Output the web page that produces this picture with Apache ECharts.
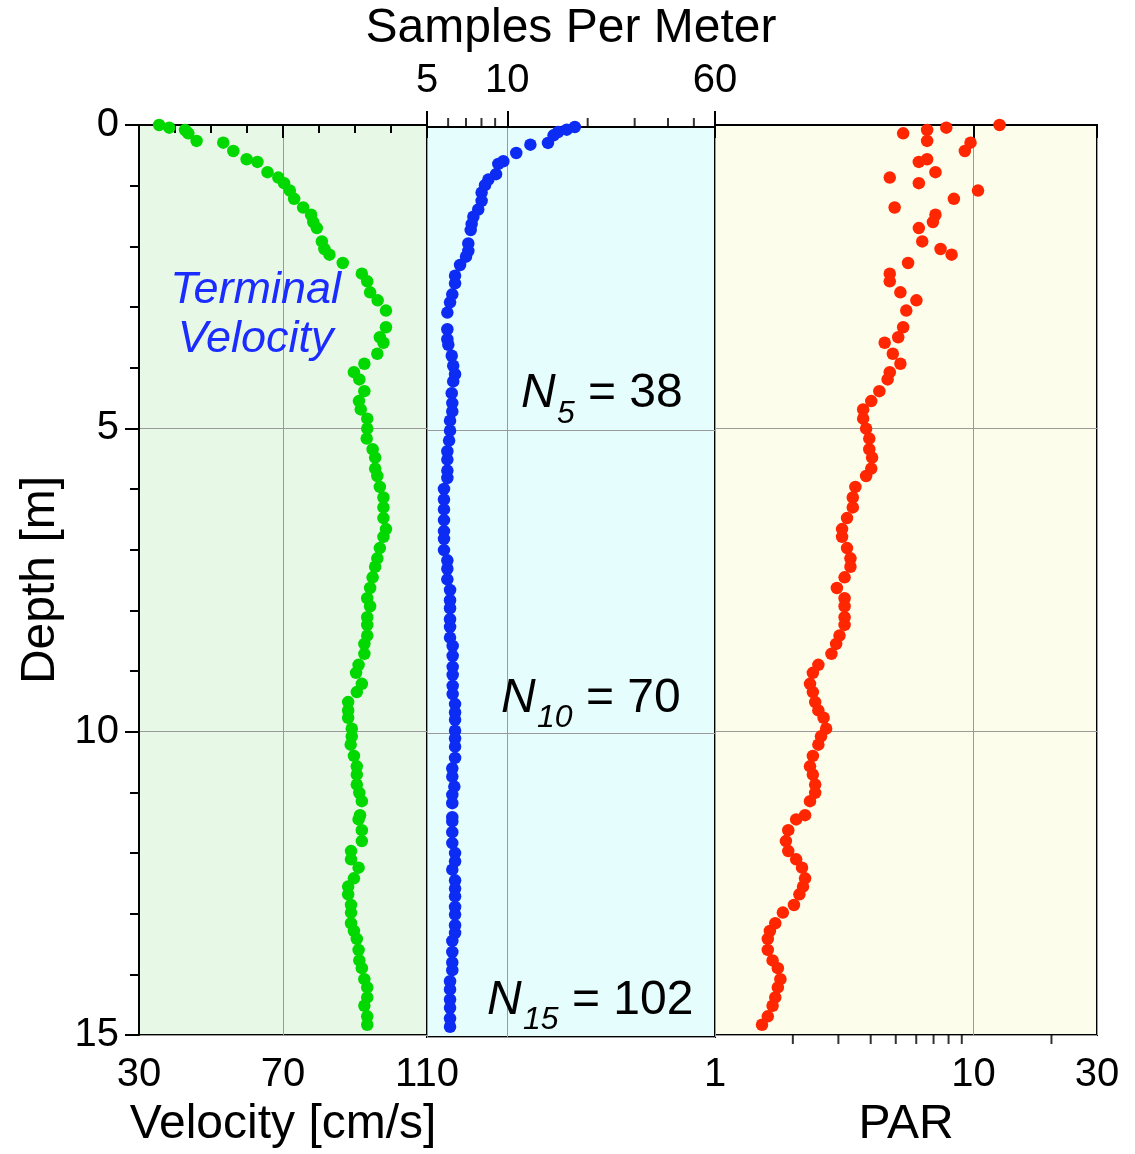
<!DOCTYPE html>
<html>
<head>
<meta charset="utf-8">
<script src="https://cdn.jsdelivr.net/npm/echarts@6/dist/echarts.min.js"></script>
<style>
html,body{margin:0;padding:0;background:#fff;}
#chart{width:1135px;height:1154px;}
</style>
</head>
<body>
<div id="chart"></div>
<script>
// ---- data ----
const depth = [0.00,0.044,0.082,0.137,0.263,0.291,0.428,0.564,0.609,0.778,
  0.867,0.959,1.081,1.217,1.360,1.480,1.600,1.699,1.919,2.044,
  2.138,2.275,2.451,2.577,2.758,2.890,3.059,3.334,3.498,3.590,
  3.771,3.936,4.074,4.194,4.387,4.551,4.688,4.84,5.005,5.169,
  5.345,5.482,5.663,5.785,5.965,6.140,6.304,6.480,6.661,6.788,
  6.974,7.143,7.281,7.456,7.632,7.801,7.933,8.113,8.240,8.416,
  8.553,8.717,8.898,9.030,9.211,9.347,9.512,9.650,9.770,9.951,
  10.077,10.214,10.400,10.571,10.707,10.872,11.008,11.146,11.377,11.447,
  11.623,11.804,11.969,12.105,12.242,12.418,12.554,12.681,12.857,12.982,
  13.158,13.285,13.416,13.597,13.771,13.898,14.079,14.215,14.380,14.518,
  14.692,14.831];
const velocity = [35.6,38.4,42.8,43.7,46.0,53.4,56.2,59.9,62.9,65.7,
  68.7,70.3,71.9,73.1,75.6,77.8,78.4,79.4,80.8,81.5,
  82.9,86.6,91.9,93.4,94.2,96.3,98.6,98.6,96.9,97.9,
  96.2,92.6,89.7,91.2,92.6,91.1,91.6,93.4,93.4,93.25,
  94.9,95.6,95.6,96.2,96.9,97.9,97.9,97.9,98.6,97.9,
  96.9,96.2,95.6,94.9,94.2,93.4,94.2,93.4,93.4,93.4,
  92.6,92.6,91.0,90.3,91.9,90.5,88.1,88.1,88.1,89.1,
  89.1,88.8,89.7,90.5,90.5,90.5,91.2,91.9,91.4,91.0,
  91.9,91.9,88.9,88.9,91.0,89.7,88.1,88.1,88.9,88.9,
  88.9,89.7,90.5,91.0,91.2,91.9,92.6,93.4,93.4,92.6,
  93.4,93.4];
const samplesPerMeter = [17.9,16.7,15.5,14.9,14.2,12.2,10.8,9.66,9.25,9.07,
  8.49,8.25,8.01,8.01,7.78,7.46,7.35,7.29,7.14,7.14,
  7.0,6.65,6.37,6.37,6.22,6.10,5.96,5.96,5.96,6.01,
  6.19,6.27,6.37,6.27,6.19,6.22,6.22,6.10,6.10,6.05,
  5.96,5.96,5.96,5.96,5.79,5.79,5.79,5.79,5.79,5.79,
  5.79,5.96,5.96,5.96,6.10,6.10,6.10,6.10,6.10,6.10,
  6.24,6.24,6.24,6.24,6.24,6.24,6.37,6.37,6.37,6.37,
  6.37,6.37,6.37,6.22,6.22,6.33,6.22,6.22,6.22,6.22,
  6.22,6.22,6.37,6.37,6.22,6.37,6.37,6.37,6.37,6.37,
  6.37,6.37,6.22,6.22,6.22,6.22,6.10,6.10,6.10,6.10,
  6.10,6.10];
const par = [12.6,7.84,6.61,5.34,6.61,9.73,9.25,6.61,6.14,7.12,
  4.74,6.14,10.4,8.39,4.95,7.12,6.96,6.14,6.33,7.45,
  8.22,5.58,4.74,4.74,5.21,6.01,5.49,5.34,5.11,4.53,
  4.87,5.21,4.74,4.65,4.32,4.02,3.74,3.74,3.84,3.95,
  3.95,4.05,4.02,3.84,3.49,3.41,3.41,3.24,3.10,3.10,
  3.24,3.34,3.34,3.17,2.96,3.17,3.17,3.17,3.17,3.03,
  2.94,2.82,2.51,2.39,2.33,2.39,2.44,2.51,2.63,2.69,
  2.57,2.51,2.39,2.33,2.39,2.44,2.44,2.33,2.23,2.06,
  1.92,1.88,1.92,2.06,2.17,2.23,2.19,2.12,2.02,1.83,
  1.71,1.63,1.60,1.60,1.67,1.75,1.79,1.75,1.71,1.67,
  1.60,1.52];
const sppMinorTicks = [6,7,8,9,20,30,40,50];
const parMinorTicks = [2,3,4,5,6,7,8,9,20];
const annotations = [
  {sub:'5', value:'= 38', depth:4.38},
  {sub:'10', value:'= 70', depth:9.40},
  {sub:'15', value:'= 102', depth:14.38}
];

// ---- chart ----
const FONT = '"Liberation Sans", Arial, Helvetica, sans-serif';
const chart = echarts.init(document.getElementById('chart'), null, {renderer:'canvas'});
const GRID_TOP = 125, GRID_H = 912;
const gridLine = {show:true, lineStyle:{color:'#9a9a9a', width:1}};
const label40 = {fontSize:40, color:'#000', fontFamily:FONT};
const name48 = {fontSize:48, color:'#000', fontFamily:FONT};

function pairs(xs){ return xs.map((v,i)=>[v, depth[i]]); }

const option = {
  backgroundColor:'#fff',
  animation:false,
  grid:[
    {left:139, top:GRID_TOP, width:288, height:GRID_H, show:true, backgroundColor:'#e8f8e6', borderColor:'#000', borderWidth:2},
    {left:427, top:GRID_TOP, width:288, height:GRID_H, show:true, backgroundColor:'#e6fdfd', borderColor:'#000', borderWidth:2},
    {left:715, top:GRID_TOP, width:382, height:GRID_H, show:true, backgroundColor:'#fdfdeb', borderColor:'#000', borderWidth:2}
  ],
  xAxis:[
    {gridIndex:0, type:'value', min:30, max:110, interval:40, position:'bottom',
     name:'Velocity [cm/s]', nameLocation:'middle', nameGap:66, nameTextStyle:name48,
     axisLine:{show:true, lineStyle:{color:'#000', width:2}},
     axisTick:{show:true, inside:false, length:13, lineStyle:{color:'#000', width:2}},
     minorTick:{show:true, splitNumber:4, length:8, lineStyle:{color:'#000', width:2}},
     axisLabel:Object.assign({margin:20}, label40),
     splitLine:gridLine},
    {gridIndex:1, type:'log', logBase:10, min:5, max:60, position:'top',
     name:'Samples Per Meter', nameLocation:'middle', nameGap:74, nameTextStyle:name48,
     axisLine:{show:true, lineStyle:{color:'#000', width:2}},
     axisTick:{show:true, inside:false, length:16, lineStyle:{color:'#000', width:2}},
     axisLabel:Object.assign({margin:26}, label40),
     splitLine:gridLine},
    {gridIndex:2, type:'log', logBase:10, min:1, max:30, position:'bottom',
     name:'PAR', nameLocation:'middle', nameGap:66, nameTextStyle:name48,
     axisLine:{show:true, lineStyle:{color:'#000', width:2}},
     axisTick:{show:true, inside:false, length:13, lineStyle:{color:'#000', width:2}},
     axisLabel:Object.assign({margin:20}, label40),
     splitLine:gridLine}
  ],
  yAxis:[
    {gridIndex:0, type:'value', inverse:true, min:0, max:15, interval:5,
     name:'Depth [m]', nameLocation:'middle', nameGap:74, nameTextStyle:name48,
     axisLine:{show:true, lineStyle:{color:'#000', width:2}},
     axisTick:{show:true, inside:false, length:14, lineStyle:{color:'#000', width:2}},
     minorTick:{show:true, splitNumber:5, length:9, lineStyle:{color:'#000', width:2}},
     axisLabel:Object.assign({margin:20}, label40),
     splitLine:gridLine},
    {gridIndex:1, type:'value', inverse:true, min:0, max:15, interval:5,
     axisLine:{show:false}, axisTick:{show:false}, axisLabel:{show:false}, splitLine:gridLine},
    {gridIndex:2, type:'value', inverse:true, min:0, max:15, interval:5,
     axisLine:{show:false}, axisTick:{show:false}, axisLabel:{show:false}, splitLine:gridLine}
  ],
  series:[
    {type:'scatter', xAxisIndex:0, yAxisIndex:0, data:pairs(velocity), symbolSize:12.5,
     itemStyle:{color:'#00d800', opacity:1}, clip:false, z:5},
    {type:'scatter', xAxisIndex:1, yAxisIndex:1, data:pairs(samplesPerMeter), symbolSize:12.5,
     itemStyle:{color:'#0c2cf4', opacity:1}, clip:false, z:5},
    {type:'scatter', xAxisIndex:2, yAxisIndex:2, data:pairs(par), symbolSize:12.5,
     itemStyle:{color:'#ff2600', opacity:1}, clip:false, z:5},
    {type:'scatter', xAxisIndex:1, yAxisIndex:1, silent:true, clip:false, z:6,
     data:sppMinorTicks.map(v=>[v,0]), symbol:'rect', symbolSize:[2,9], symbolOffset:[0,-4.5],
     itemStyle:{color:'#000'}},
    {type:'scatter', xAxisIndex:2, yAxisIndex:2, silent:true, clip:false, z:6,
     data:parMinorTicks.map(v=>[v,15]), symbol:'rect', symbolSize:[2,9], symbolOffset:[0,4.5],
     itemStyle:{color:'#000'}}
  ],
  graphic:[]
};
chart.setOption(option);

// annotations positioned with the library's own conversion
const g = [];
const tv1 = chart.convertToPixel({gridIndex:0}, [62.4, 2.72]);
const tv2 = chart.convertToPixel({gridIndex:0}, [62.4, 3.54]);
g.push({type:'text', x:tv1[0], y:tv1[1], z:20, style:{text:'Terminal', font:'italic 45px '+FONT, fill:'#1a2cff', align:'center', verticalAlign:'middle'}});
g.push({type:'text', x:tv2[0], y:tv2[1], z:20, style:{text:'Velocity', font:'italic 45px '+FONT, fill:'#1a2cff', align:'center', verticalAlign:'middle'}});
const nLeft = [521, 501, 487];
annotations.forEach((a, i)=>{
  const p = chart.convertToPixel({gridIndex:1}, [10, a.depth]);
  const y = p[1] + 1;
  const x0 = nLeft[i];
  const subW = a.sub.length * 18;
  g.push({type:'text', x:x0, y:y, z:20, style:{text:'N', font:'italic 48px '+FONT, fill:'#000', align:'left', verticalAlign:'middle'}});
  g.push({type:'text', x:x0+36, y:y+20, z:20, style:{text:a.sub, font:'italic 32px '+FONT, fill:'#000', align:'left', verticalAlign:'middle'}});
  g.push({type:'text', x:x0+36+subW+13, y:y, z:20, style:{text:a.value, font:'48px '+FONT, fill:'#000', align:'left', verticalAlign:'middle'}});
});
chart.setOption({graphic:g});
</script>
</body>
</html>
